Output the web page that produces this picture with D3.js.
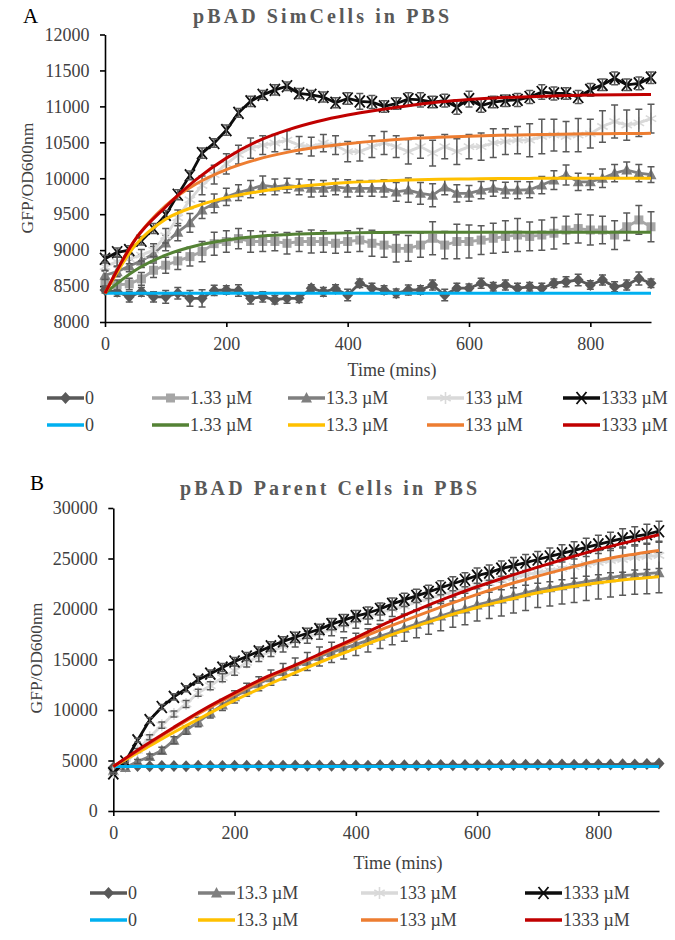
<!DOCTYPE html>
<html><head><meta charset="utf-8">
<script src="https://cdn.jsdelivr.net/npm/d3@7"></script>
<style>
html,body{margin:0;padding:0;background:#fff;}
svg{display:block;}
text{font-family:"Liberation Serif","Times New Roman",serif;}
</style></head>
<body><svg id="chart" width="675" height="940"></svg>
<script>
// ---------- DATA ----------
const timeMin = [0,20,40,60,80,100,120,140,160,180,200,220,240,260,280,300,320,340,360,380,400,420,440,460,480,500,520,540,560,580,600,620,640,660,680,700,720,740,760,780,800,820,840,860,880,900];
const fitTime = [0,50,100,150,200,250,300,350,400,450,500,550,600,650,700,750,800,850,900];
const xTicks = [0,200,400,600,800];
const yTicksA = [8000,8500,9000,9500,10000,10500,11000,11500,12000];
const yTicksB = [0,5000,10000,15000,20000,25000,30000];

// Panel A measured series
const aZero = [8445,8420,8350,8420,8350,8350,8400,8330,8330,8440,8445,8440,8330,8350,8310,8330,8330,8470,8420,8460,8375,8540,8470,8445,8400,8445,8445,8515,8375,8470,8470,8540,8490,8515,8470,8490,8470,8540,8560,8585,8515,8585,8490,8515,8605,8540];
const aZeroErr = [40,60,70,60,70,90,80,110,120,70,60,80,80,70,60,70,60,50,60,60,80,60,70,60,60,70,60,70,80,70,60,70,60,70,70,60,70,60,70,80,60,70,70,70,90,60];
const a133n = [8560,8515,8530,8600,8720,8790,8850,8910,8980,9090,9120,9160,9120,9120,9120,9095,9120,9120,9120,9095,9120,9140,9095,9070,9025,9025,9070,9165,9070,9120,9120,9140,9165,9190,9210,9190,9210,9235,9280,9300,9280,9280,9210,9325,9420,9325];
const a133nErr = [60,70,80,90,100,110,120,130,140,160,150,140,150,140,130,150,140,160,150,140,150,160,180,170,190,180,170,230,190,240,230,200,210,220,230,200,210,220,190,200,210,190,200,190,200,210];
const a13 = [8650,8700,8780,8850,8950,9100,9250,9380,9560,9650,9740,9800,9850,9900,9880,9900,9880,9860,9860,9880,9860,9860,9860,9860,9810,9835,9790,9765,9880,9790,9790,9835,9860,9835,9835,9840,9905,9975,10045,9950,9950,10000,10070,10115,10070,10050];
const a13Err = [60,70,80,90,100,110,120,130,120,130,120,110,120,130,110,100,110,120,110,110,120,110,110,120,130,170,150,160,110,120,110,120,110,110,120,110,120,130,140,120,110,130,120,110,120,110];
const a133 = [8770,8840,8880,8930,9000,9200,9450,9700,9900,10050,10200,10330,10420,10460,10490,10530,10460,10440,10490,10460,10370,10370,10440,10490,10440,10370,10440,10350,10440,10370,10440,10440,10490,10510,10530,10530,10580,10600,10580,10600,10620,10720,10790,10740,10770,10830];
const a133Err = [50,60,70,80,90,100,110,120,130,130,140,130,140,130,120,130,120,130,120,130,140,130,150,160,150,170,160,180,170,180,170,190,200,180,190,230,240,220,210,230,200,220,230,210,190,200];
const a1333 = [8880,8970,9000,9130,9300,9490,9770,10040,10350,10490,10670,10910,11070,11160,11230,11280,11180,11160,11130,11050,11110,11070,11060,11000,11040,11100,11090,11060,11080,10990,11100,11010,11060,11080,11090,11130,11200,11180,11180,11130,11230,11300,11390,11300,11320,11400];
const a1333Err = [50,60,60,60,70,60,70,60,70,60,70,60,70,60,70,60,70,60,70,70,80,110,90,80,80,90,100,80,90,100,110,90,80,80,90,90,100,90,80,90,90,80,90,80,90,80];

// Panel A fitted curves
const aFit0 = [8400,8400,8400,8400,8400,8400,8400,8400,8400,8400,8400,8400,8400,8400,8400,8400,8400,8400,8400];
const aFit133n = [8400,8720,8930,9060,9140,9190,9215,9230,9240,9245,9248,9250,9250,9250,9250,9250,9250,9250,9250];
const aFit13 = [8400,9070,9430,9610,9730,9810,9870,9910,9940,9960,9975,9985,9990,9995,9998,10000,10000,10000,10000];
const aFit133 = [8400,9150,9620,9920,10120,10260,10360,10430,10480,10520,10550,10570,10585,10597,10606,10613,10618,10622,10625];
const aFit1333 = [8400,9150,9600,9980,10280,10510,10670,10790,10880,10950,11010,11060,11095,11120,11135,11148,11157,11162,11165];

// Panel B measured series
const bZero = [4300,4400,4450,4430,4460,4450,4440,4470,4450,4460,4480,4470,4480,4470,4490,4500,4480,4500,4490,4510,4500,4490,4520,4510,4520,4500,4520,4550,4530,4550,4540,4560,4550,4560,4570,4580,4570,4600,4580,4600,4610,4600,4620,4610,4650,4700];
const bZeroErr = [80,90,90,90,90,90,90,90,90,90,100,100,100,100,100,100,100,100,100,100,100,100,100,100,100,100,100,110,110,110,110,110,110,110,110,120,120,120,120,120,120,120,120,120,130,130];
const b13 = [4000,4300,4900,5400,6000,7000,8000,8800,9700,10500,11300,12000,12600,13200,13800,14300,14800,15300,15700,16100,16500,16900,17300,17700,18100,18500,18900,19300,19700,20000,20400,20700,21000,21300,21600,21900,22100,22300,22500,22700,22900,23100,23300,23400,23500,23600];
const b13Err = [100,150,200,250,300,350,400,450,500,550,600,650,700,750,800,850,900,950,1000,1050,1100,1150,1200,1250,1300,1350,1400,1450,1500,1550,1600,1650,1700,1700,1750,1750,1800,1800,1850,1850,1900,1900,1950,1950,2000,2000];
const b133 = [3800,4700,6000,7300,8500,9600,10600,11700,12400,13200,13900,14700,15300,15800,16300,16800,17200,17600,18000,18400,18800,19200,19600,20000,20300,20700,21000,21400,21700,22000,22300,22600,22900,23100,23400,23600,23800,24000,24200,24400,24600,24800,24900,25100,25200,25300];
const b133Err = [100,150,200,250,300,300,350,350,400,400,450,450,500,500,550,550,600,600,650,650,700,700,750,750,800,800,850,850,900,900,950,950,1000,1000,1050,1050,1100,1100,1150,1150,1200,1200,1250,1250,1300,1300];
const b1333 = [3730,4900,7000,9000,10300,11300,12100,13000,13600,14200,14800,15300,15800,16300,16800,17200,17600,18000,18500,18900,19300,19600,20000,20500,20900,21300,21700,22100,22500,22900,23300,23600,24000,24300,24600,24900,25200,25500,25800,26100,26400,26700,27000,27200,27400,27700];
const b1333Err = [100,150,200,250,250,300,300,350,350,400,400,400,450,450,450,500,500,500,550,550,550,600,600,600,650,650,650,700,700,700,750,750,750,800,800,800,850,850,850,900,900,900,950,950,1000,1000];

// Panel B fitted curves
const bFit0 = [4400,4400,4400,4400,4400,4400,4400,4400,4400,4400,4400,4400,4400,4400,4400,4400,4400,4400,4400];
const bFit13 = [4400,6100,7800,9400,10950,12350,13700,14950,16100,17250,18300,19300,20150,20900,21600,22150,22600,22950,23200];
const bFit133 = [4400,6300,8200,9950,11550,13050,14400,15700,16950,18150,19300,20400,21450,22400,23250,24050,24800,25350,25800];
const bFit1333 = [4400,6400,8300,10100,11700,13200,14450,15800,17150,18600,19900,21100,22200,23200,24150,25050,25900,26650,27350];

const legendLabelsA = ["0","1.33 µM","13.3 µM","133 µM","1333 µM"];
const legendLabelsB = ["0","13.3 µM","133 µM","1333 µM"];

// ---------- STYLE ----------
const C = {zero:"#595959", n133:"#a6a6a6", t13:"#7f7f7f", s133:"#d9d9d9", x1333:"#0d0d0d",
           blue:"#00b0f0", green:"#548235", yellow:"#ffc000", orange:"#ed7d31", red:"#c00000", err:"#595959"};
const textCol = "#404040";

const svg = d3.select("#chart");

function drawMarker(g, type, color) {
  if (type === "diamond") {
    g.append("path").attr("d","M0,-6L5.5,0L0,6L-5.5,0Z").attr("fill",color);
  } else if (type === "square") {
    g.append("rect").attr("x",-4.5).attr("y",-4.5).attr("width",9).attr("height",9).attr("fill",color);
  } else if (type === "triangle") {
    g.append("path").attr("d","M0,-6L5.5,4.5L-5.5,4.5Z").attr("fill",color);
  } else if (type === "star") {
    g.append("path").attr("d","M0,-6L0,6M-5.2,-3L5.2,3M-5.2,3L5.2,-3").attr("stroke",color).attr("stroke-width",1.6).attr("fill","none");
  } else if (type === "x") {
    g.append("path").attr("d","M-5,-6L5,6M-5,6L5,-6").attr("stroke",color).attr("stroke-width",1.8).attr("fill","none");
  }
}

function drawPanel(p) {
  const g = svg.append("g");
  const x = d3.scaleLinear().domain([0,900]).range([p.x0, p.x1]);
  const y = d3.scaleLinear().domain(p.yDomain).range([p.yBottom, p.yTop]);

  // axes
  const ax = g.append("g").attr("transform",`translate(0,${p.yBottom})`)
    .call(d3.axisBottom(x).tickValues(xTicks).tickSize(5).tickSizeOuter(0).tickPadding(10).tickFormat(d3.format("d")));
  const ay = g.append("g").attr("transform",`translate(${p.x0},0)`)
    .call(d3.axisLeft(y).tickValues(p.yTicks).tickSize(5).tickSizeOuter(0).tickPadding(10.5).tickFormat(d3.format("d")));
  [ax, ay].forEach(a => {
    a.select(".domain").attr("stroke","#000").attr("stroke-width",1.6);
    a.selectAll(".tick line").attr("stroke","#000").attr("stroke-width",1.6);
    a.selectAll(".tick text").attr("font-size",18).attr("fill",textCol).attr("font-family","Liberation Serif");
  });

  // measured series
  p.series.forEach(s => {
    const pts = timeMin.map((t,i) => ({t, v:s.values[i], e:s.err[i]}));
    const line = d3.line().x(d=>x(d.t)).y(d=>y(d.v));
    g.append("path").datum(pts).attr("d",line).attr("fill","none")
      .attr("stroke",s.color).attr("stroke-width",2.8).attr("stroke-linejoin","round");
    const mg = g.append("g");
    pts.forEach(d => {
      const m = mg.append("g").attr("transform",`translate(${x(d.t)},${y(d.v)})`);
      drawMarker(m, s.marker, s.color);
    });
    const eg = g.append("g").attr("stroke",C.err).attr("stroke-width",1.5).attr("fill","none");
    pts.forEach(d => {
      const xx = x(d.t), y1 = y(d.v + d.e), y2 = y(d.v - d.e);
      eg.append("path").attr("d",`M${xx},${y1}L${xx},${y2}M${xx-3.5},${y1}L${xx+3.5},${y1}M${xx-3.5},${y2}L${xx+3.5},${y2}`);
    });
  });

  // fitted curves
  p.fits.forEach(f => {
    const pts = fitTime.map((t,i) => ({t, v:f.values[i]}));
    g.append("path").datum(pts)
      .attr("d", d3.line().x(d=>x(d.t)).y(d=>y(d.v)).curve(d3.curveMonotoneX))
      .attr("fill","none").attr("stroke",f.color).attr("stroke-width",3);
  });

  // titles
  svg.append("text").attr("x",p.letterX).attr("y",p.letterY).attr("font-size",21).attr("fill","#000").text(p.letter);
  svg.append("text").attr("x",p.titleX).attr("y",p.titleY).attr("font-size",20).attr("font-weight","bold")
    .attr("fill","#595959").attr("textLength",p.titleW).attr("lengthAdjust","spacing").text(p.title);
  svg.append("text").attr("transform",`translate(${p.yLabX},${p.yLabY}) rotate(-90)`)
    .attr("text-anchor","middle").attr("font-size",17.5).attr("fill",textCol).text("GFP/OD600nm");
  svg.append("text").attr("x",p.xLabX).attr("y",p.xLabY).attr("text-anchor","middle")
    .attr("font-size",18).attr("fill",textCol).text("Time (mins)");

  // legend
  const lg = svg.append("g");
  p.legendX.forEach((lx,i) => {
    const s = p.series[i], f = p.fits[i];
    // row 1: measured
    lg.append("line").attr("x1",lx).attr("x2",lx+37).attr("y1",p.legY1).attr("y2",p.legY1)
      .attr("stroke",s.color).attr("stroke-width",3.5);
    drawMarker(lg.append("g").attr("transform",`translate(${lx+18.5},${p.legY1})`), s.marker, s.color);
    lg.append("text").attr("x",lx+38).attr("y",p.legY1+6).attr("font-size",18).attr("fill",textCol).text(p.legendLabels[i]);
    // row 2: fits
    lg.append("line").attr("x1",lx).attr("x2",lx+37).attr("y1",p.legY2).attr("y2",p.legY2)
      .attr("stroke",f.color).attr("stroke-width",3.5);
    lg.append("text").attr("x",lx+38).attr("y",p.legY2+6).attr("font-size",18).attr("fill",textCol).text(p.legendLabels[i]);
  });
}

drawPanel({
  x0:105, x1:651, yBottom:322, yTop:34.5, yDomain:[8000,12000], yTicks:yTicksA,
  series:[
    {values:aZero, err:aZeroErr, color:C.zero, marker:"diamond"},
    {values:a133n, err:a133nErr, color:C.n133, marker:"square"},
    {values:a13, err:a13Err, color:C.t13, marker:"triangle"},
    {values:a133, err:a133Err, color:C.s133, marker:"star"},
    {values:a1333, err:a1333Err, color:C.x1333, marker:"x"}
  ],
  fits:[
    {values:aFit0, color:C.blue},
    {values:aFit133n, color:C.green},
    {values:aFit13, color:C.yellow},
    {values:aFit133, color:C.orange},
    {values:aFit1333, color:C.red}
  ],
  letter:"A", letterX:23, letterY:23, title:"pBAD SimCells in PBS", titleX:193, titleY:23, titleW:256,
  yLabX:33, yLabY:178, xLabX:392, xLabY:376,
  legendX:[47,152,288,427,563], legY1:398, legY2:425, legendLabels:legendLabelsA
});

drawPanel({
  x0:113.3, x1:659, yBottom:811, yTop:508, yDomain:[0,30000], yTicks:yTicksB,
  series:[
    {values:bZero, err:bZeroErr, color:C.zero, marker:"diamond"},
    {values:b13, err:b13Err, color:C.t13, marker:"triangle"},
    {values:b133, err:b133Err, color:C.s133, marker:"star"},
    {values:b1333, err:b1333Err, color:C.x1333, marker:"x"}
  ],
  fits:[
    {values:bFit0, color:C.blue},
    {values:bFit13, color:C.yellow},
    {values:bFit133, color:C.orange},
    {values:bFit1333, color:C.red}
  ],
  letter:"B", letterX:30, letterY:490, title:"pBAD Parent Cells in PBS", titleX:180, titleY:495, titleW:297,
  yLabX:42, yLabY:658, xLabX:398, xLabY:869,
  legendX:[90,198,361,525], legY1:893, legY2:920, legendLabels:legendLabelsB
});
</script></body></html>
